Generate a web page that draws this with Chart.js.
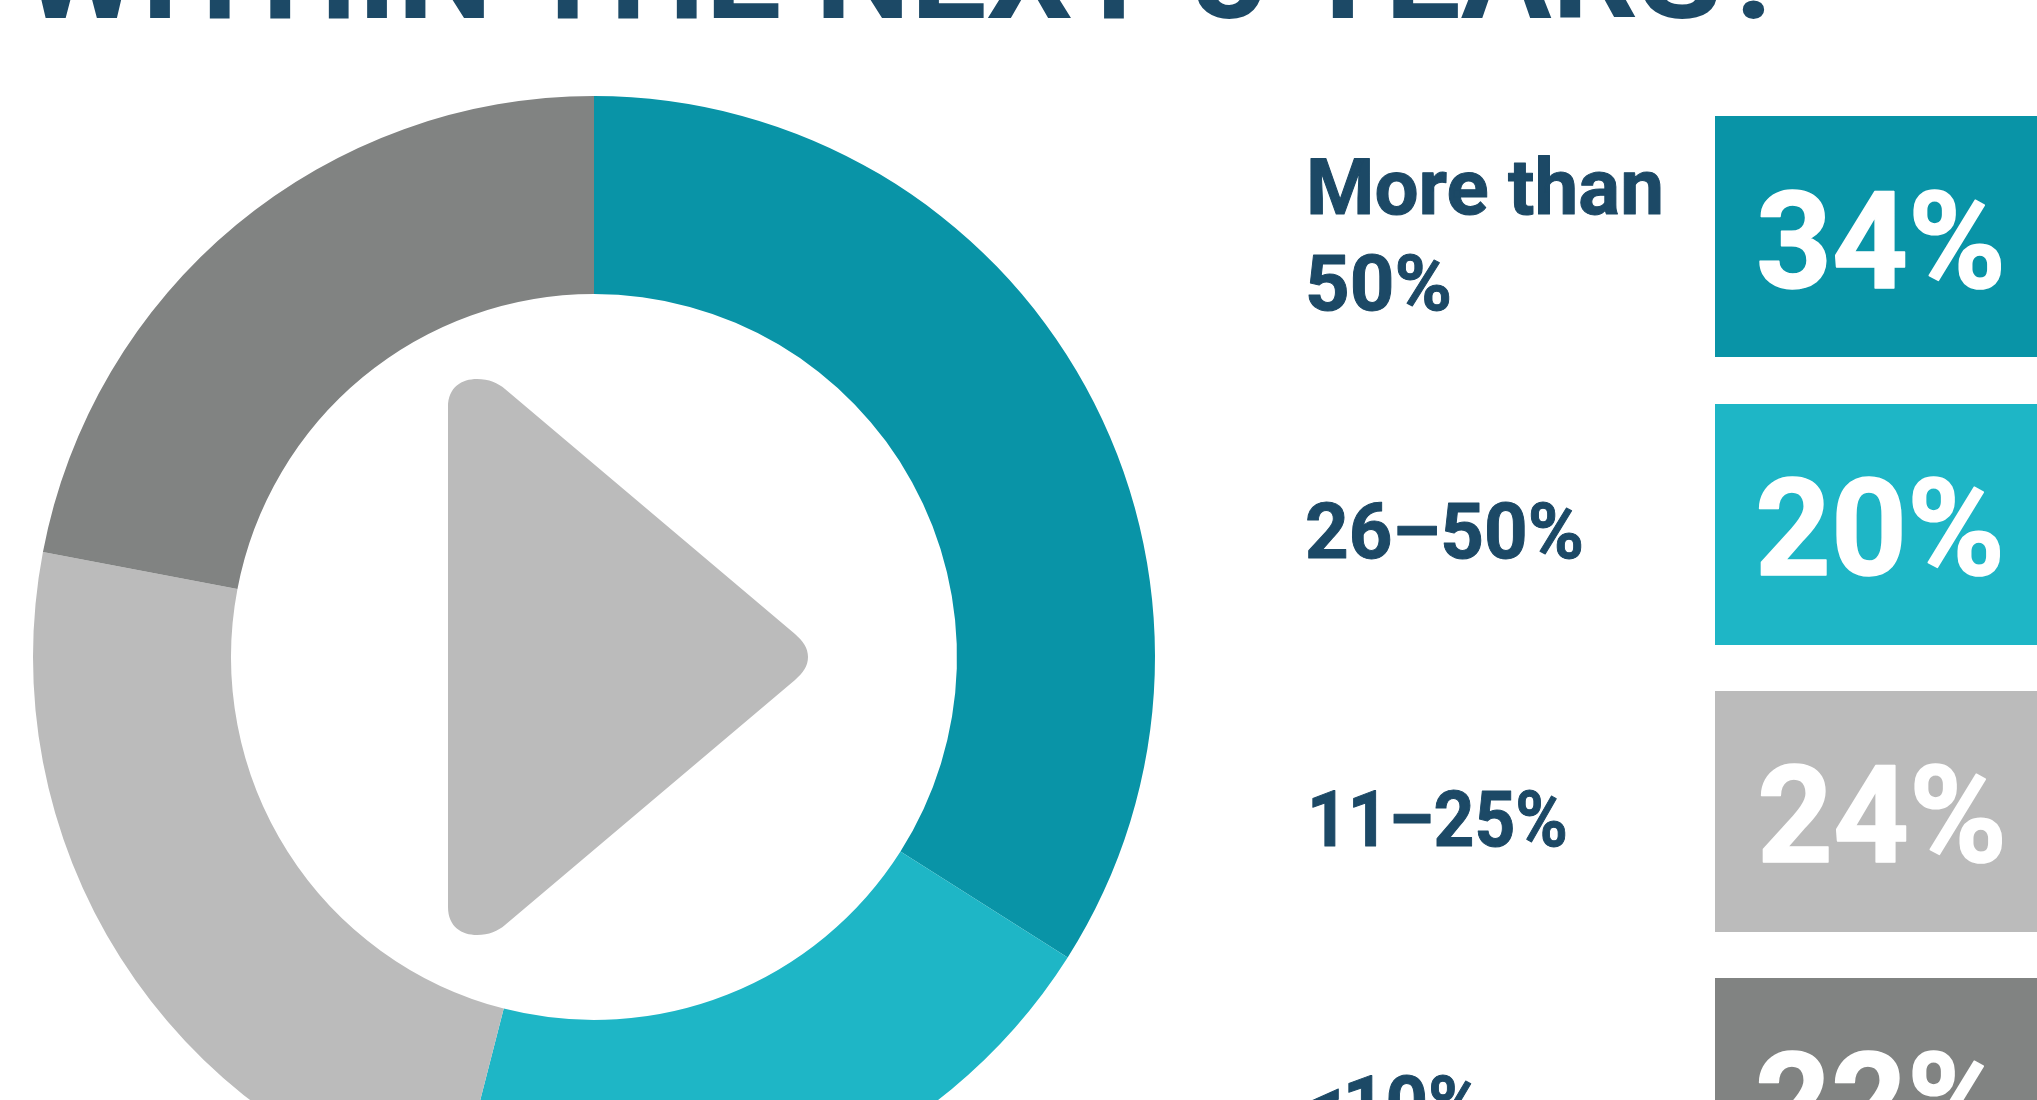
<!DOCTYPE html>
<html>
<head>
<meta charset="utf-8">
<title>Within the next 5 years?</title>
<script src="https://cdn.jsdelivr.net/npm/chart.js@4"></script>
<style>
  html,body{margin:0;padding:0;background:#fff;overflow:hidden;width:2037px;height:1100px}
  canvas{position:absolute;left:0;top:0}
</style>
</head>
<body>
<canvas id="shareChart" width="2037" height="1312"></canvas>
<script>
// ================= DATA =================
const categories = ["More than 50%","26–50%","11–25%","<10%"];
const shares = [34,20,24,22];
const sliceColors = ["#0994a7","#1eb6c6","#bbbbbb","#818382"];
const titleText = "WITHIN THE NEXT 5 YEARS?";

const NAVY = "#1c4966";
const FONT = "Roboto, sans-serif";

// text squeezed to a set width, measured from the left edge and the baseline.
// heavy adds a thin outline because the plain bold is a bit light at these sizes
function squeezed(ctx,text,x,base,size,width,color,heavy){
  ctx.save();
  ctx.font = "700 "+size+"px "+FONT;
  ctx.fillStyle = color;
  ctx.strokeStyle = color;
  ctx.lineWidth = heavy;
  ctx.lineJoin = "round";
  ctx.textBaseline = "alphabetic";
  ctx.textAlign = "left";
  const w = ctx.measureText(text).width;
  ctx.translate(x,base);
  ctx.scale(width/w,1);
  ctx.fillText(text,0,0);
  if(heavy) ctx.strokeText(text,0,0);
  ctx.restore();
}

// ================= PLAY ICON =================
const playIcon = {
  id:"playIcon",
  afterDatasetsDraw(chart){
    const arc = chart.getDatasetMeta(0).data[0];
    const c = chart.ctx, cx = arc.x, cy = arc.y;
    c.save();
    c.translate(cx,cy);
    c.fillStyle = "#bbbbbb";
    c.beginPath();
    c.moveTo(-146,-250);
    c.bezierCurveTo(-146,-270,-132,-278,-117,-278);
    c.bezierCurveTo(-105,-278,-96,-274,-89,-268);
    c.lineTo(201,-23);
    c.bezierCurveTo(209,-16,214,-9,214,0);
    c.bezierCurveTo(214,9,209,16,201,23);
    c.lineTo(-89,268);
    c.bezierCurveTo(-96,274,-105,278,-117,278);
    c.bezierCurveTo(-132,278,-146,270,-146,250);
    c.closePath();
    c.fill();
    c.restore();
  }
};

// ================= TITLE + KEY =================
const keyPanel = {
  id:"keyPanel",
  afterDraw(chart){
    const c = chart.ctx;
    squeezed(c,titleText,22,18,128,1767,NAVY,0);

    const boxTops = [116,404,691,978];
    const numBase = [288,575,862,1149];
    const numX = [1756,1755,1757,1755];
    categories.forEach((cat,i)=>{
      c.fillStyle = sliceColors[i];
      c.fillRect(1715,boxTops[i],322,i<3?241:200);
      squeezed(c,shares[i]+"%",numX[i],numBase[i],136,250,"#fff",1.5);
    });

    squeezed(c,"More than",1306,214,78,358,NAVY,1);
    squeezed(c,"50%",1305,310,78,147,NAVY,1);
    squeezed(c,categories[1],1305,558,78,279,NAVY,1);
    squeezed(c,categories[2],1307,846,78,261,NAVY,1);
    squeezed(c,categories[3],1305,1131,78,178,NAVY,1);
  }
};

// ================= CHART =================
new Chart(document.getElementById("shareChart"),{
  type:"doughnut",
  data:{
    labels:categories,
    datasets:[{
      data:shares,
      backgroundColor:sliceColors,
      borderWidth:0
    }]
  },
  options:{
    responsive:false,
    animation:false,
    cutout:"64.7%",
    layout:{padding:{left:33,top:96,right:882,bottom:94}},
    plugins:{legend:{display:false},tooltip:{enabled:false}}
  },
  plugins:[playIcon,keyPanel]
});
</script>
</body>
</html>
